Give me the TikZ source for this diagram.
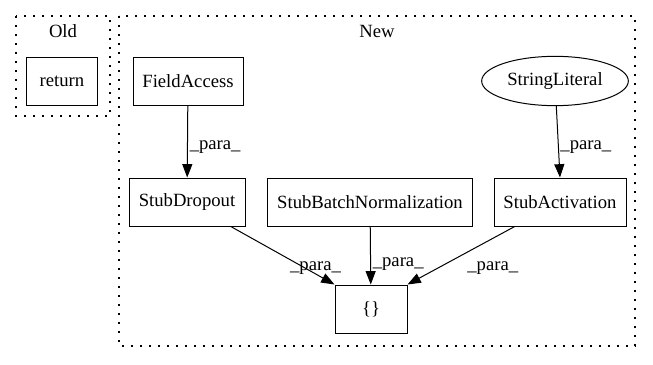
\documentclass[tikz,border=0pt]{standalone}
\usepackage{fontspec}
\setmainfont{Liberation Serif}
\usetikzlibrary{arrows.meta,shapes.geometric}
\begin{document}
\begin{tikzpicture}[x=0.75pt,y=-0.75pt,line width=0.75pt,
  every node/.style={font=\fontsize{14}{16}\selectfont},
  box/.style={draw,minimum height=36pt,inner xsep=0pt},
  clust/.style={draw,line width=1pt,dash pattern=on 1.2pt off 5.55pt},
  edge/.style={-{Triangle[length=10pt,width=7.5pt]}},
  lab/.style={right=-2pt,yshift=-4pt}]
\useasboundingbox (0,0) rectangle (653,364);
% the two clusters
\draw[clust] (16,16) rectangle (110,116);
\draw[clust] (119,16) rectangle (635,346);
\node (old) at (63,31) {Old};
\node (new) at (377,31) {New};
% boxes: name/x/y/width/text
\foreach \n/\x/\y/\w/\t in {ret/62/81/53/return,
    field/188/81/82.5/FieldAccess,
    drop/187/202/87/StubDropout,
    batch/370/202/154/StubBatchNormalization,
    act/560/202/99/StubActivation,
    block/371/309/54/\{\}}
  \node[box,minimum width=\w pt] (\n) at (\x,\y) {\t};
\node[draw,ellipse,minimum width=110pt,minimum height=37pt,inner sep=0pt] (str) at (555,81) {StringLiteral};
% edges
\draw[edge] (field) -- node[lab]{\_para\_} (drop);
\draw[edge] (str) -- node[lab]{\_para\_} (act.north);
\draw[edge] (drop) -- node[pos=0.55,lab,yshift=-3pt]{\_para\_} (block.north west);
\draw[edge] (batch) -- node[pos=0.55,lab]{\_para\_} (block);
\draw[edge] (act) -- node[pos=0.55,lab,yshift=-3pt,xshift=7pt]{\_para\_} (block.north east);
\end{tikzpicture}
\end{document}
